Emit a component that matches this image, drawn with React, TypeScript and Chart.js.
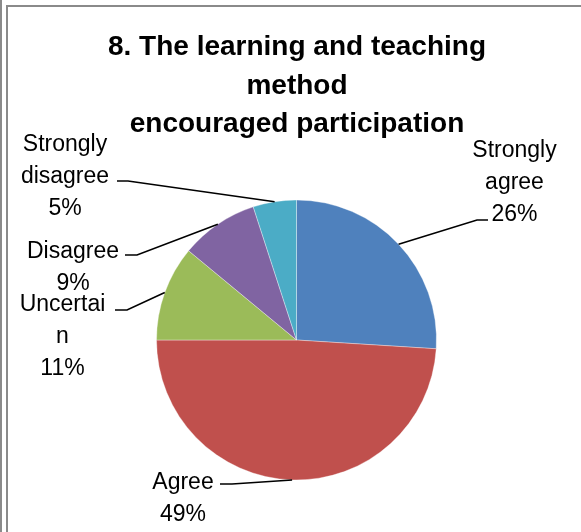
import React, { useEffect, useRef } from "react";
import { Chart, registerables } from "chart.js";

Chart.register(...registerables);

const titleLines = ["8. The learning and teaching", "method", "encouraged participation"];
const categories = ["Strongly agree", "Agree", "Uncertain", "Disagree", "Strongly disagree"];
const values = [26, 49, 11, 9, 5];
const labelWraps = [["Strongly", "agree"], ["Agree"], ["Uncertai", "n"], ["Disagree"], ["Strongly", "disagree"]];
const colors = ["#4F81BD", "#C0504D", "#9BBB59", "#8064A2", "#4BACC6"];

// label layout: text centre x offset, first baseline offset (from pie centre), elbow start/end x offsets, elbow y offset
const labelLayout = [
  { tx: 218, ty: -183, ex1: 191.5, ex2: 180.5, ey: -120 },
  { tx: -113.5, ty: 149, ex1: -76.5, ex2: -64.5, ey: 144 },
  { tx: -234, ty: -29, ex1: -181.5, ex2: -169.5, ey: -30 },
  { tx: -223.5, ty: -82, ex1: -171.5, ex2: -159.5, ey: -85 },
  { tx: -231.5, ty: -189, ex1: -179.5, ex2: -168.5, ey: -159 },
];

const labelFont = "23px 'Liberation Sans', Arial, sans-serif";
const titleFont = "bold 28px 'Liberation Sans', Arial, sans-serif";

const labelsPlugin = {
  id: "pieLabels",
  afterDraw(chart: any) {
    const ctx = chart.ctx;
    const meta = chart.getDatasetMeta(0);
    const total = values.reduce((a, b) => a + b, 0);
    ctx.save();
    // title
    ctx.fillStyle = "#000";
    ctx.font = titleFont;
    ctx.textAlign = "center";
    ctx.textBaseline = "alphabetic";
    const first = meta.data[0].getProps(["x", "y"], true);
    const titleBaselines = [55, 94, 132];
    titleLines.forEach((t, i) => ctx.fillText(t, first.x + 0.5, titleBaselines[i]));

    meta.data.forEach((arc: any, i: number) => {
      const p = arc.getProps(["x", "y", "startAngle", "endAngle", "outerRadius"], true);
      const mid = (p.startAngle + p.endAngle) / 2;
      const ax = p.x + Math.cos(mid) * p.outerRadius;
      const ay = p.y + Math.sin(mid) * p.outerRadius;
      const L = labelLayout[i];
      const pct = Math.round((values[i] / total) * 100);
      const lines = [...labelWraps[i], pct + "%"];
      ctx.font = labelFont;
      ctx.fillStyle = "#000";
      ctx.textAlign = "center";
      lines.forEach((ln, j) => ctx.fillText(ln, p.x + L.tx, p.y + L.ty + j * 32));
      ctx.strokeStyle = "#000";
      ctx.lineWidth = 1.6;
      ctx.beginPath();
      ctx.moveTo(p.x + L.ex1, p.y + L.ey);
      ctx.lineTo(p.x + L.ex2, p.y + L.ey);
      ctx.lineTo(ax, ay);
      ctx.stroke();
    });
    ctx.restore();
  },
};

export default function App() {
  const ref = useRef<HTMLCanvasElement | null>(null);
  useEffect(() => {
    document.body.style.margin = "0";
    const chart = new Chart(ref.current!, {
      type: "pie",
      data: {
        labels: categories,
        datasets: [
          {
            data: values,
            backgroundColor: colors,
            borderColor: "rgba(255,255,255,0.35)",
            borderWidth: 1,
          },
        ],
      },
      options: {
        animation: false,
        responsive: false,
        layout: { padding: { left: 156, right: 144, top: 199.5, bottom: 51.5 } },
        plugins: {
          legend: { display: false },
          tooltip: { enabled: false },
          title: { display: false },
        },
      },
      plugins: [labelsPlugin],
    });
    return () => chart.destroy();
  }, []);
  return (
    <div style={{ position: "relative", width: 581, height: 532, background: "#fff", overflow: "hidden" }}>
      <div style={{ position: "absolute", left: 0, top: 0, width: 2, height: 532, background: "#8a8a8a" }} />
      <div style={{ position: "absolute", left: 6, top: 5, width: 2, height: 527, background: "#8a8a8a" }} />
      <div style={{ position: "absolute", left: 6, top: 5, width: 575, height: 2, background: "#8a8a8a" }} />
      <canvas ref={ref} width={581} height={532} style={{ position: "absolute", left: 0, top: 0 }} />
    </div>
  );
}
